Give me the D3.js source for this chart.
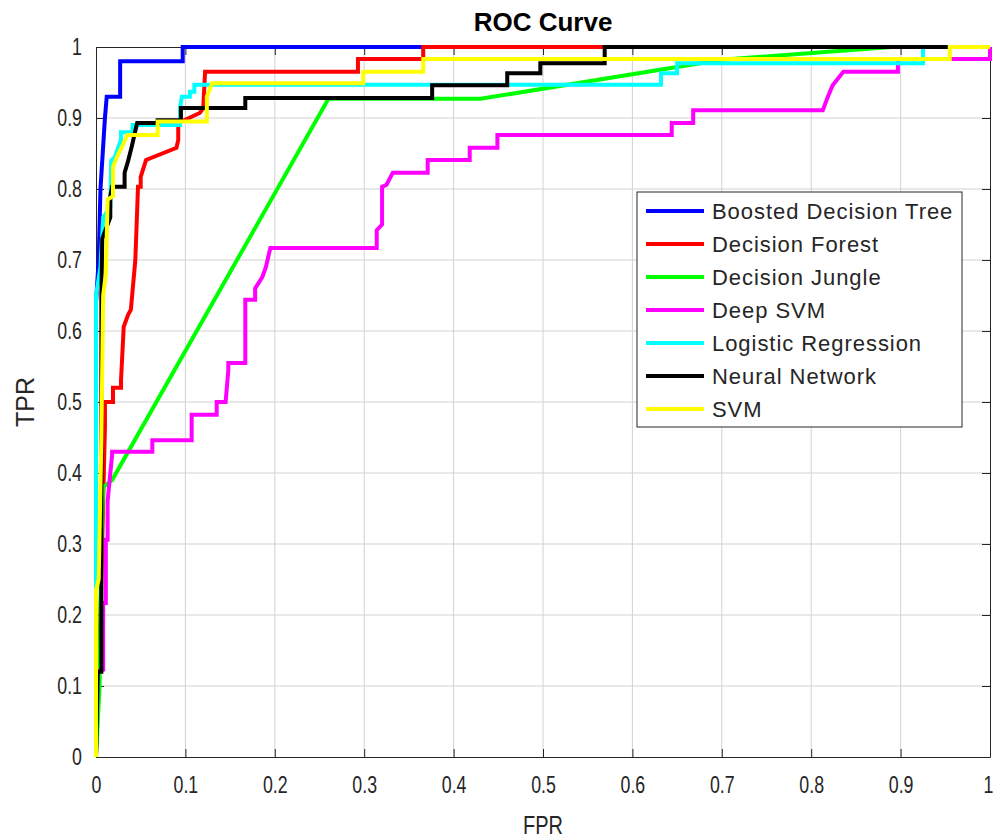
<!DOCTYPE html>
<html>
<head>
<meta charset="utf-8">
<script src="https://cdn.jsdelivr.net/npm/d3@7"></script>
<style>
  body { margin: 0; background: #fff; }
  svg { display: block; font-family: "Liberation Sans", Arial, sans-serif; }
</style>
</head>
<body>
<svg width="996" height="838"></svg>
<script>
// ROC curves: [FPR, TPR]
const seriesNames = ["Boosted Decision Tree", "Decision Forest", "Decision Jungle", "Deep SVM",
    "Logistic Regression", "Neural Network", "SVM"];
const seriesColors = ["#0000ff", "#ff0000", "#00ff00", "#ff00ff", "#00ffff", "#000000", "#ffff00"];

const boosted = [[0,0],[0,0.64],[0.003,0.70],[0.005,0.80],[0.008,0.86],[0.01,0.90],[0.012,0.93],
    [0.027,0.93],[0.027,0.98],[0.097,0.98],[0.097,1],[1,1]];
const forest = [[0,0],[0.005,0.2],[0.01,0.465],[0.01,0.5],[0.019,0.5],[0.019,0.52],[0.028,0.52],
    [0.028,0.531],[0.031,0.606],[0.036,0.623],[0.039,0.63],[0.044,0.70],[0.047,0.803],[0.05,0.803],
    [0.05,0.817],[0.056,0.841],[0.09,0.858],[0.092,0.869],[0.092,0.893],[0.116,0.907],[0.12,0.914],
    [0.122,0.965],[0.293,0.965],[0.293,0.983],[0.366,0.983],[0.366,1],[1,1]];
const jungle = [[0,0],[0.004,0.1],[0.006,0.3],[0.008,0.38],[0.018,0.39],[0.26,0.927],[0.43,0.927],
    [0.7,0.982],[0.89,1],[1,1]];
const deepSvm = [[0,0],[0,0.12],[0.008,0.123],[0.008,0.217],[0.011,0.217],[0.011,0.306],[0.013,0.306],
    [0.013,0.36],[0.016,0.40],[0.018,0.425],[0.018,0.43],[0.063,0.43],[0.063,0.446],[0.107,0.446],
    [0.107,0.482],[0.135,0.482],[0.135,0.5],[0.145,0.5],[0.148,0.545],[0.148,0.555],[0.167,0.555],
    [0.167,0.644],[0.178,0.644],[0.178,0.66],[0.186,0.676],[0.19,0.69],[0.195,0.717],[0.314,0.717],
    [0.314,0.742],[0.32,0.75],[0.32,0.803],[0.325,0.806],[0.332,0.823],[0.371,0.823],[0.371,0.841],
    [0.418,0.841],[0.418,0.858],[0.449,0.858],[0.449,0.876],[0.644,0.876],[0.644,0.893],[0.668,0.893],
    [0.668,0.911],[0.813,0.911],[0.818,0.928],[0.824,0.946],[0.836,0.965],[0.897,0.965],[0.897,0.983],
    [1,0.983],[1,1]];
const logistic = [[0,0],[0,0.65],[0.005,0.69],[0.008,0.76],[0.016,0.775],[0.017,0.84],[0.021,0.845],
    [0.028,0.87],[0.028,0.88],[0.041,0.88],[0.041,0.89],[0.094,0.89],[0.094,0.915],[0.096,0.93],
    [0.105,0.93],[0.105,0.937],[0.11,0.937],[0.11,0.947],[0.632,0.947],[0.632,0.963],[0.65,0.963],
    [0.65,0.977],[0.925,0.977],[0.925,1],[1,1]];
const neural = [[0,0],[0.002,0.12],[0.006,0.12],[0.006,0.65],[0.007,0.73],[0.016,0.76],[0.016,0.79],
    [0.018,0.803],[0.032,0.803],[0.032,0.823],[0.036,0.84],[0.04,0.86],[0.046,0.893],[0.069,0.893],
    [0.069,0.897],[0.095,0.897],[0.095,0.914],[0.167,0.914],[0.167,0.928],[0.376,0.928],[0.376,0.946],
    [0.46,0.946],[0.46,0.963],[0.497,0.963],[0.497,0.977],[0.569,0.977],[0.569,1],[1,1]];
const svmCurve = [[0,0],[0,0.235],[0.003,0.25],[0.006,0.45],[0.008,0.65],[0.011,0.68],[0.013,0.785],
    [0.019,0.79],[0.019,0.831],[0.023,0.844],[0.03,0.862],[0.035,0.876],[0.069,0.876],[0.069,0.895],
    [0.124,0.895],[0.124,0.93],[0.13,0.949],[0.299,0.949],[0.299,0.965],[0.366,0.965],[0.366,0.983],
    [0.955,0.983],[0.955,1],[1,1]];

const allSeries = [boosted, forest, jungle, deepSvm, logistic, neural, svmCurve];
const ticks = [0, 0.1, 0.2, 0.3, 0.4, 0.5, 0.6, 0.7, 0.8, 0.9, 1];

const plot = { left: 96, right: 990, top: 47, bottom: 757 };

const x = d3.scaleLinear().domain([0, 1]).range([plot.left, plot.right]);
const y = d3.scaleLinear().domain([0, 1]).range([plot.bottom, plot.top]);

const svg = d3.select("svg");
const axisColor = "#262626";

// squeeze text horizontally, the source font is narrow
function squeeze(sel, k) {
    sel.each(function() {
        const w = this.getComputedTextLength();
        if (w > 0) d3.select(this).attr("textLength", w * k).attr("lengthAdjust", "spacingAndGlyphs");
    });
}

// grid
svg.append("g").selectAll("line.gx")
    .data(ticks.slice(1, -1))
    .enter().append("line")
    .attr("x1", d => x(d)).attr("x2", d => x(d))
    .attr("y1", plot.top).attr("y2", plot.bottom)
    .attr("stroke", "#d2d2d2").attr("stroke-width", 1);
svg.append("g").selectAll("line.gy")
    .data(ticks.slice(1, -1))
    .enter().append("line")
    .attr("x1", plot.left).attr("x2", plot.right)
    .attr("y1", d => y(d)).attr("y2", d => y(d))
    .attr("stroke", "#d2d2d2").attr("stroke-width", 1);

// axes, ticks inside like MATLAB
const fmt = d => d === 0 || d === 1 ? String(d) : d3.format(".1f")(d);
const xAxis = svg.append("g")
    .attr("transform", "translate(0," + plot.bottom + ")")
    .call(d3.axisBottom(x).tickValues(ticks).tickFormat(fmt).tickSizeInner(-8).tickSizeOuter(0).tickPadding(19));
const xTop = svg.append("g")
    .attr("transform", "translate(0," + plot.top + ")")
    .call(d3.axisTop(x).tickValues(ticks).tickFormat("").tickSizeInner(-8).tickSizeOuter(0));
const yAxis = svg.append("g")
    .attr("transform", "translate(" + plot.left + ",0)")
    .call(d3.axisLeft(y).tickValues(ticks).tickFormat(fmt).tickSizeInner(-8).tickSizeOuter(0).tickPadding(14));
const yRight = svg.append("g")
    .attr("transform", "translate(" + plot.right + ",0)")
    .call(d3.axisRight(y).tickValues(ticks).tickFormat("").tickSizeInner(-8).tickSizeOuter(0));

[xAxis, xTop, yAxis, yRight].forEach(g => {
    g.select(".domain").attr("stroke", axisColor);
    g.selectAll(".tick line").attr("stroke", axisColor);
    g.selectAll("text").attr("fill", axisColor).style("font-size", "24px")
        .style("font-family", "'Liberation Sans', Arial, sans-serif")
        .call(squeeze, 0.74);
});
// keep the last x label inside the picture
xAxis.selectAll(".tick text").filter(d => d === 1).attr("text-anchor", "end").attr("x", 3);

// curves
const line = d3.line().x(d => x(d[0])).y(d => y(d[1]));
svg.append("g").selectAll("path")
    .data(allSeries)
    .enter().append("path")
    .attr("d", line)
    .attr("fill", "none")
    .attr("stroke", (d, i) => seriesColors[i])
    .attr("stroke-width", 4)
    .attr("stroke-linejoin", "miter");

// labels
svg.append("text")
    .attr("x", (plot.left + plot.right) / 2).attr("y", 31)
    .attr("text-anchor", "middle")
    .style("font-size", "26px").style("font-weight", "bold")
    .attr("fill", "#000")
    .text("ROC Curve");
svg.append("text")
    .attr("x", (plot.left + plot.right) / 2).attr("y", 834)
    .attr("text-anchor", "middle")
    .style("font-size", "25px").attr("fill", axisColor)
    .text("FPR")
    .call(squeeze, 0.8);
svg.append("text")
    .attr("transform", "translate(34," + ((plot.top + plot.bottom) / 2) + ") rotate(-90)")
    .attr("text-anchor", "middle")
    .style("font-size", "25px").attr("fill", axisColor)
    .text("TPR");

// legend
const legend = svg.append("g").attr("transform", "translate(637,192)");
legend.append("rect")
    .attr("width", 325).attr("height", 235)
    .attr("fill", "#fff").attr("stroke", axisColor).attr("stroke-width", 1);
const rows = legend.selectAll("g.row")
    .data(seriesNames)
    .enter().append("g")
    .attr("transform", (d, i) => "translate(0," + (19 + i * 33) + ")");
rows.append("line")
    .attr("x1", 9).attr("x2", 67)
    .attr("stroke", (d, i) => seriesColors[i]).attr("stroke-width", 4);
rows.append("text")
    .attr("x", 75).attr("dy", "0.35em")
    .style("font-size", "22px").style("letter-spacing", "0.95px").attr("fill", axisColor)
    .text(d => d);
</script>
</body>
</html>
